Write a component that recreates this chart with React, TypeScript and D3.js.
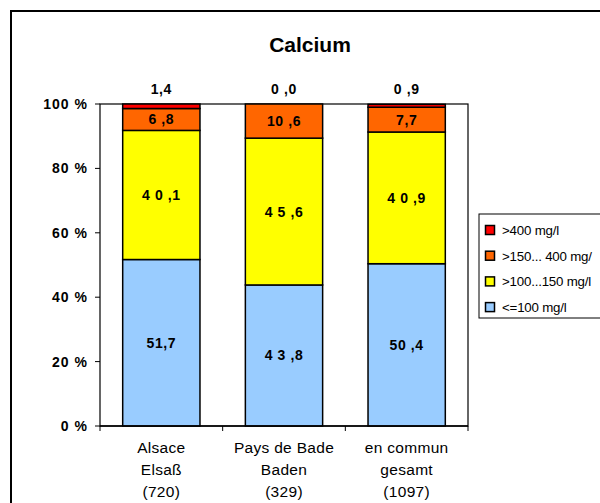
import * as d3 from 'd3';

const categories = ['Alsace|Elsaß|(720)', 'Pays de Bade|Baden|(329)', 'en commun|gesamt|(1097)'];
const seriesNames = ['<=100 mg/l', '>100...150 mg/l', '>150... 400 mg/', '>400 mg/l'];
const seriesColors = ['#99CCFF', '#FFFF00', '#FF6600', '#FF0000'];
const lowValues = [51.7, 43.8, 50.4];
const midValues = [40.1, 45.6, 40.9];
const highValues = [6.8, 10.6, 7.7];
const topValues = [1.4, 0.0, 0.9];
const labelTexts = [
  ['51,7', '4 3 ,8', '50 ,4'],
  ['4 0 ,1', '4 5 ,6', '4 0 ,9'],
  ['6 ,8', '10 ,6', '7,7'],
  ['1,4', '0 ,0', '0 ,9'],
];
const yTicks = [0, 20, 40, 60, 80, 100];

const W = 600;
const H = 503;
const plot = { left: 100, right: 468, top: 104, bottom: 426 };
const font = '"Liberation Sans", Arial, sans-serif';

export default function App() {
  const x = d3.scaleBand<string>().domain(categories).range([plot.left, plot.right]).padding(0);
  const y = d3.scaleLinear().domain([0, 100]).range([plot.bottom, plot.top]);
  const barW = x.bandwidth() * 0.63;

  const rows = categories.map((c, i) => ({
    key: c,
    vals: [lowValues[i], midValues[i], highValues[i], topValues[i]],
  }));
  const stack = d3.stack<any>().keys(['0', '1', '2', '3']).value((d, k) => d.vals[+k]);
  const layers = stack(rows);

  return (
    <svg width={W} height={H} style={{ position: 'absolute', left: 0, top: 0, background: '#fff' }} fontFamily={font}>
      <rect x={11} y={11} width={620} height={520} fill="#fff" stroke="#000" strokeWidth={2} />
      <text x={310} y={52} textAnchor="middle" fontSize={21} fontWeight="bold">Calcium</text>

      {/* plot area */}
      <rect x={plot.left} y={plot.top} width={plot.right - plot.left} height={plot.bottom - plot.top} fill="#fff" stroke="#000" strokeWidth={1.2} />

      {yTicks.map((t) => (
        <g key={t}>
          <line x1={plot.left - 5} x2={plot.left} y1={y(t)} y2={y(t)} stroke="#000" strokeWidth={1} />
          <text x={88} y={y(t) + 5} textAnchor="end" fontSize={14} fontWeight="bold" letterSpacing={1}>{t} %</text>
        </g>
      ))}

      {categories.map((c, i) => (
        <line key={'ct' + i} x1={x(c)! + x.bandwidth()} x2={x(c)! + x.bandwidth()} y1={plot.bottom} y2={plot.bottom + 5} stroke="#000" strokeWidth={1} />
      ))}
      <line x1={plot.left} x2={plot.left} y1={plot.bottom} y2={plot.bottom + 5} stroke="#000" strokeWidth={1} />

      {layers.map((layer, li) =>
        layer.map((seg, ci) => {
          const cx = x(categories[ci])! + x.bandwidth() / 2;
          const y0 = y(seg[0]);
          const y1 = y(seg[1]);
          return (
            <rect key={li + '-' + ci} x={cx - barW / 2} y={y1} width={barW} height={Math.max(0, y0 - y1)}
              fill={seriesColors[li]} stroke="#000" strokeWidth={1.5} />
          );
        })
      )}
      <line x1={plot.left} x2={plot.right} y1={plot.bottom} y2={plot.bottom} stroke="#000" strokeWidth={1.5} />

      {layers.map((layer, li) =>
        layer.map((seg, ci) => {
          const cx = x(categories[ci])! + x.bandwidth() / 2;
          const ly = li === 3 ? y(100) - 10 : (y(seg[0]) + y(seg[1])) / 2 + 5;
          return (
            <text key={'l' + li + '-' + ci} x={cx} y={ly} textAnchor="middle" fontSize={14} fontWeight="bold" letterSpacing={0.6}>
              {labelTexts[li][ci]}
            </text>
          );
        })
      )}

      {categories.map((c) => {
        const cx = x(c)! + x.bandwidth() / 2;
        return c.split('|').map((line, k) => (
          <text key={c + k} x={cx} y={453 + k * 22} textAnchor="middle" fontSize={15.5} letterSpacing={0.3}>{line}</text>
        ));
      })}

      {/* legend */}
      <rect x={479} y={214} width={140} height={104} fill="#fff" stroke="#000" strokeWidth={1} />
      {[3, 2, 1, 0].map((si, k) => {
        const cy = 230 + k * 25.7;
        return (
          <g key={'lg' + si}>
            <rect x={485.5} y={cy - 4.5} width={9} height={9} fill={seriesColors[si]} stroke="#000" strokeWidth={1.5} />
            <text x={502} y={cy + 5} fontSize={13.3} letterSpacing={-0.2}>{seriesNames[si]}</text>
          </g>
        );
      })}
    </svg>
  );
}
